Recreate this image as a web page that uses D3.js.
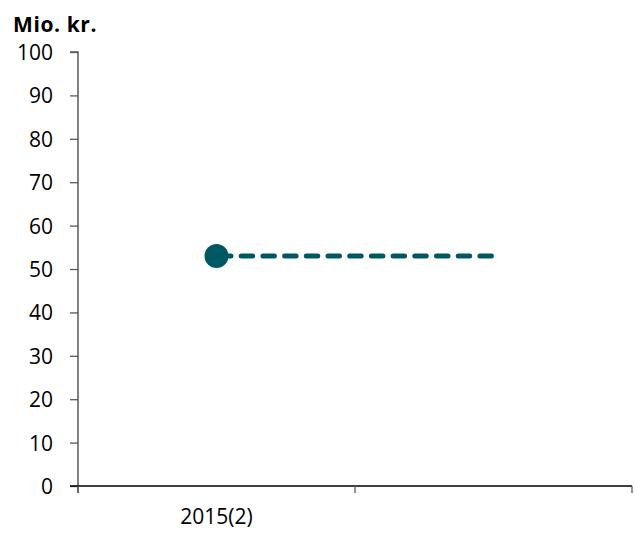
<!DOCTYPE html>
<html><head><meta charset="utf-8">
<script src="https://cdn.jsdelivr.net/npm/d3@7"></script>
<style>
html,body{margin:0;padding:0;background:#fff;}
svg text{font-family:"Open Sans",sans-serif;fill:#000;}
</style></head>
<body><svg id="c" width="635" height="533"></svg>
<script>
const categories = ["2015(2)", ""];
const actualValues = [53, null];
const projectedValues = [53, 53];
const yTicks = [0,10,20,30,40,50,60,70,80,90,100];
const yLabel = "Mio. kr.";

(function(){
const svg = d3.select("#c");
const mLeft = 78, mRight = 632, mTop = 52, mBottom = 486;
const color = "#005962";

const x = d3.scaleBand().domain(categories).range([mLeft, mRight]).padding(0);
const y = d3.scaleLinear().domain([0, 100]).range([mBottom, mTop]);

// y axis
const yAxis = svg.append("g").attr("transform", `translate(${mLeft},0)`)
  .call(d3.axisLeft(y).tickValues(yTicks).tickSize(8).tickPadding(17).tickFormat(d3.format("d")));
yAxis.select(".domain").attr("stroke", "#595959").attr("stroke-width", 1.5).attr("d", `M-8,${mTop}H0V${mBottom + 7}`);
yAxis.selectAll(".tick line").attr("stroke", "#595959").attr("stroke-width", 1.3);
yAxis.selectAll(".tick text").style("font-size", "21px").attr("dy", "0.36em");

// x axis
const xg = svg.append("g");
xg.append("line").attr("x1", mLeft - 8).attr("x2", mRight).attr("y1", mBottom).attr("y2", mBottom)
  .attr("stroke", "#000").attr("stroke-width", 1.5);
const bounds = categories.map(c => x(c)).concat([x(categories[categories.length-1]) + x.bandwidth()]);
xg.selectAll("line.t").data(bounds).enter().append("line").attr("class","t")
  .attr("x1", d => d).attr("x2", d => d).attr("y1", mBottom).attr("y2", mBottom + 7)
  .attr("stroke", "#595959").attr("stroke-width", 1.3);
xg.selectAll("text").data(categories).enter().append("text")
  .attr("x", d => x(d) + x.bandwidth()/2).attr("y", 524)
  .attr("text-anchor", "middle").style("font-size", "21px").text(d => d);

// y label
svg.append("text").attr("x", 13).attr("y", 32).style("font-size", "21px").style("font-weight", "bold")
  .style("letter-spacing", "0.6px").text(yLabel);

// projected dashed line
const pts = categories.map((c, i) => [x(c) + x.bandwidth()/2, projectedValues[i]]).filter(d => d[1] != null);
svg.append("path")
  .attr("d", d3.line().x(d => d[0]).y(d => y(d[1]))(pts))
  .attr("fill", "none").attr("stroke", color).attr("stroke-width", 5)
  .attr("stroke-linecap", "round").attr("stroke-dasharray", "11.5,10.2")
  .attr("stroke-dashoffset", -3);

// actual points
svg.selectAll("circle").data(categories.map((c, i) => [c, actualValues[i]]).filter(d => d[1] != null))
  .enter().append("circle")
  .attr("cx", d => x(d[0]) + x.bandwidth()/2).attr("cy", d => y(d[1])).attr("r", 12)
  .attr("fill", color);
})();
</script></body></html>
